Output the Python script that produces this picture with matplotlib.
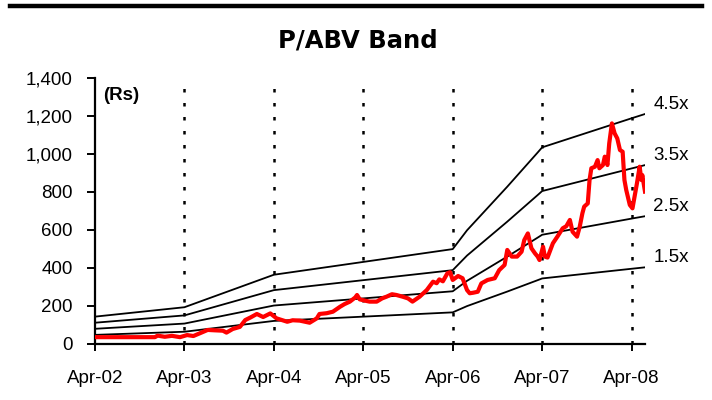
import matplotlib
matplotlib.use("Agg")
import matplotlib.pyplot as plt
from matplotlib.lines import Line2D

# ---- data ----
price_t = [2002.25, 2002.92, 2002.95, 2003.03, 2003.11, 2003.20, 2003.28, 2003.35, 2003.42, 2003.51,
           2003.59, 2003.68, 2003.72, 2003.79, 2003.87, 2003.93, 2003.99, 2004.06, 2004.13, 2004.21,
           2004.24, 2004.28, 2004.40, 2004.46, 2004.54, 2004.65, 2004.73, 2004.76, 2004.84, 2004.91,
           2004.99, 2005.04, 2005.10, 2005.16, 2005.18, 2005.21, 2005.27, 2005.32, 2005.40, 2005.46,
           2005.51, 2005.57, 2005.62, 2005.69, 2005.75, 2005.80, 2005.88, 2005.96, 2006.03, 2006.07,
           2006.10, 2006.14, 2006.19, 2006.22, 2006.25, 2006.31, 2006.36, 2006.41, 2006.44, 2006.48,
           2006.53, 2006.57, 2006.64, 2006.72, 2006.77, 2006.83, 2006.86, 2006.91, 2006.97, 2007.02,
           2007.05, 2007.09, 2007.13, 2007.17, 2007.20, 2007.22, 2007.26, 2007.28, 2007.31, 2007.37,
           2007.42, 2007.48, 2007.52, 2007.56, 2007.59, 2007.64, 2007.67, 2007.70, 2007.72, 2007.76,
           2007.78, 2007.80, 2007.84, 2007.87, 2007.89, 2007.93, 2007.95, 2007.98, 2008.00, 2008.03,
           2008.06, 2008.09, 2008.12, 2008.15, 2008.17, 2008.19, 2008.23, 2008.26, 2008.31, 2008.34,
           2008.36, 2008.37, 2008.40]
price = [36, 36, 44, 38, 43, 36, 47, 42, 56, 74,
         72, 70, 60, 79, 90, 126, 140, 158, 142, 161,
         150, 135, 117, 125, 123, 112, 135, 158, 162, 170,
         196, 210, 223, 245, 258, 235, 228, 223, 223, 240,
         249, 262, 258, 249, 240, 223, 249, 284, 328, 320,
         340, 330, 372, 378, 337, 358, 346, 284, 267, 270,
         275, 319, 337, 346, 389, 416, 495, 460, 460, 486,
         547, 582, 504, 477, 460, 442, 512, 460, 455, 530,
         565, 609, 620, 653, 591, 565, 617, 688, 723, 740,
         863, 925, 933, 968, 925, 942, 986, 942, 1056, 1161,
         1109, 1082, 1021, 1012, 863, 811, 732, 714, 846, 933,
         863, 889, 802]

abv_t = [2002.25, 2003.25, 2004.25, 2005.25, 2006.25, 2006.41, 2006.86, 2007.20, 2007.25, 2008.25, 2008.40]
abv = [32, 43, 81, 96, 111, 133, 184, 224, 230, 264, 269]

multiples = [1.5, 2.5, 3.5, 4.5]
band_labels = ["1.5x", "2.5x", "3.5x", "4.5x"]

tick_years = [2002.25, 2003.25, 2004.25, 2005.25, 2006.25, 2007.25, 2008.25]
tick_labels = ["Apr-02", "Apr-03", "Apr-04", "Apr-05", "Apr-06", "Apr-07", "Apr-08"]
y_ticks = [0, 200, 400, 600, 800, 1000, 1200, 1400]

# ---- figure ----
fig = plt.figure(figsize=(7.12, 4.0), dpi=100)
ax = fig.add_axes([95 / 712, 1 - 344 / 400, (645 - 95) / 712, (344 - 78) / 400])

# top rule
fig.add_artist(Line2D([10 / 712, 702 / 712], [1 - 6 / 400, 1 - 6 / 400], color="black", lw=3.2,
                      transform=fig.transFigure))

fig.text(358 / 712, 1 - 40 / 400, "P/ABV Band", ha="center", va="center",
         fontsize=17.5, fontweight="bold", family="DejaVu Sans")

for x in tick_years[1:]:
    ax.axvline(x, color="black", lw=1.8, linestyle=(0, (1.4, 4.2)), zorder=1)

for m in multiples:
    ax.plot(abv_t, [m * v for v in abv], color="black", lw=1.3, zorder=2)

ax.plot(price_t, price, color="#ff0000", lw=3.0, zorder=3, solid_joinstyle="round")

ax.set_xlim(2002.25, 2008.40)
ax.set_ylim(0, 1400)
ax.set_xticks(tick_years)
ax.set_xticklabels(tick_labels)
ax.set_yticks(y_ticks)
ax.set_yticklabels([f"{v:,}" for v in y_ticks])

for s in ["top", "right"]:
    ax.spines[s].set_visible(False)
for s in ["left", "bottom"]:
    ax.spines[s].set_linewidth(1.6)

ax.tick_params(axis="y", direction="out", length=6, width=1.4, pad=10,
               labelsize=13.5, labelfontfamily="Liberation Sans")
ax.tick_params(axis="x", direction="out", length=5, width=1.4, pad=14,
               labelsize=13.5, labelfontfamily="Liberation Sans")

ax.text(2002.34, 1310, "(Rs)", fontsize=13.5, fontweight="bold", family="Liberation Sans",
        ha="left", va="center")

for m, lab in zip(multiples, band_labels):
    ax.annotate(lab, xy=(abv_t[-1], m * abv[-1]), xytext=(6, 7), textcoords="offset points",
                fontsize=13.5, family="Liberation Sans", ha="left", va="center",
                annotation_clip=False)

fig.savefig("out.png", dpi=100)
